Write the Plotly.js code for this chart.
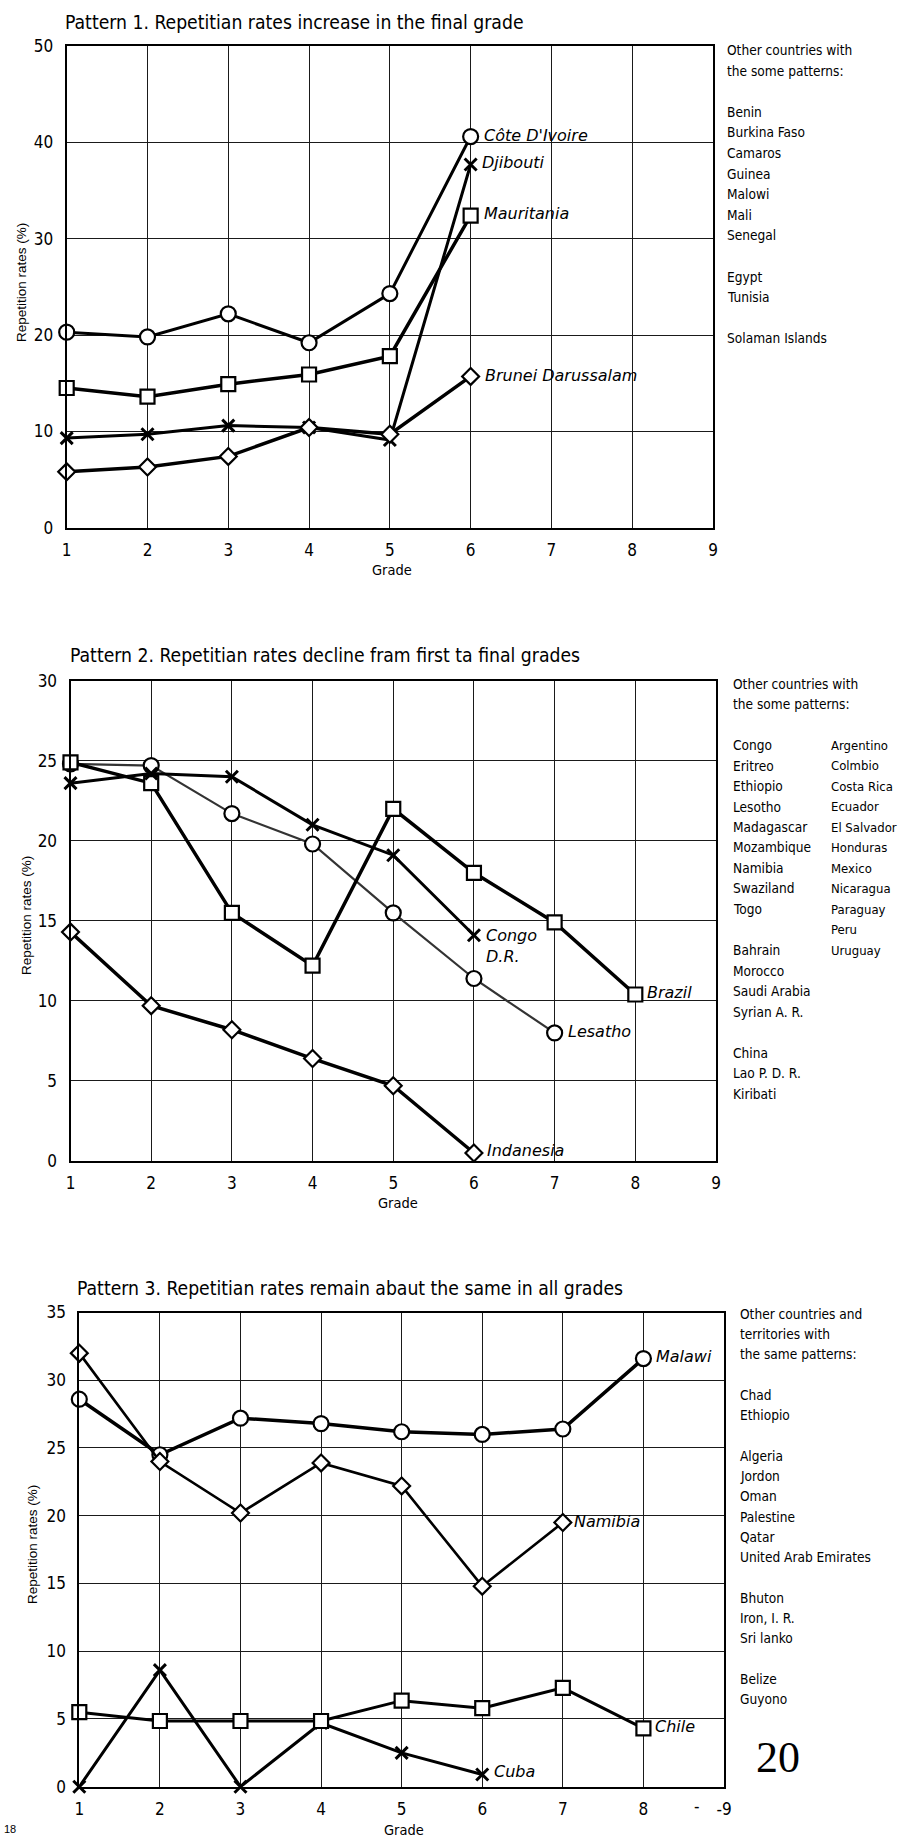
<!DOCTYPE html>
<html>
<head>
<meta charset="utf-8">
<script src="https://cdn.plot.ly/plotly-3.0.1.min.js"></script>
<style>html,body{margin:0;padding:0;background:#fff;}#chart{width:901px;height:1837px;}</style>
</head>
<body>
<div id="chart"></div>
<script>
// ---------------- DATA ----------------
// Pattern 1
const grades1 = [1, 2, 3, 4, 5, 6];
const coteDIvoire = [20.3, 19.8, 22.2, 19.2, 24.3, 40.6];
const djibouti = [9.3, 9.7, 10.6, 10.4, 9.1, 37.7];
const mauritania = [14.5, 13.6, 14.9, 15.9, 17.8, 32.4];
const brunei = [5.8, 6.3, 7.4, 10.4, 9.7, 15.7];
const others1 = ["Other countries with", "the some patterns:", "", "Benin", "Burkina Faso", "Camaros", "Guinea", "Malowi", "Mali", "Senegal", "", "Egypt", "Tunisia", "", "Solaman Islands"];

// Pattern 2
const grades2 = [1, 2, 3, 4, 5, 6, 7, 8];
const brazil = [24.9, 23.6, 15.5, 12.2, 22.0, 18.0, 14.9, 10.4];
const congoDR = [23.6, 24.2, 24.0, 21.0, 19.1, 14.1];
const lesotho = [24.8, 24.7, 21.7, 19.8, 15.5, 11.4, 8.0];
const indonesia = [14.3, 9.7, 8.2, 6.4, 4.7, 0.5];
const others2a = ["Other countries with", "the some patterns:", "", "Congo", "Eritreo", "Ethiopio", "Lesotho", "Madagascar", "Mozambique", "Namibia", "Swaziland", "Togo", "", "Bahrain", "Morocco", "Saudi Arabia", "Syrian A. R.", "", "China", "Lao P. D. R.", "Kiribati"];
const others2b = ["", "", "", "Argentino", "Colmbio", "Costa Rica", "Ecuador", "El Salvador", "Honduras", "Mexico", "Nicaragua", "Paraguay", "Peru", "Uruguay"];

// Pattern 3
const grades3 = [1, 2, 3, 4, 5, 6, 7, 8];
const malawi = [28.6, 24.5, 27.2, 26.8, 26.2, 26.0, 26.4, 31.6];
const namibia = [32.0, 24.0, 20.2, 23.9, 22.2, 14.8, 19.5];
const chile = [5.5, 4.85, 4.85, 4.85, 6.35, 5.8, 7.3, 4.3];
const cuba = [0, 8.6, 0, 4.7, 2.5, 0.9];
const others3 = ["Other countries and", "territories with", "the same patterns:", "", "Chad", "Ethiopio", "", "Algeria", "Jordon", "Oman", "Palestine", "Qatar", "United Arab Emirates", "", "Bhuton", "Iron, I. R.", "Sri lanko", "", "Belize", "Guyono"];

const titles = [
  "Pattern 1. Repetitian rates increase in the final grade",
  "Pattern 2. Repetitian rates decline fram first ta final grades",
  "Pattern 3. Repetitian rates remain abaut the same in all grades"
];
const xTicks = [1, 2, 3, 4, 5, 6, 7, 8, 9];
const xTickText3 = ["1", "2", "3", "4", "5", "6", "7", "8", "-9"];

// ---------------- STYLE ----------------
const W = 901, H = 1837;
const NARROW = "'DejaVu Sans Condensed', 'Liberation Sans Narrow', 'Arial Narrow', sans-serif";
const SANS = "'Liberation Sans', Arial, sans-serif";
const LABF = "'DejaVu Sans', 'Liberation Sans', sans-serif";
const px = x => x / W;
const py = y => 1 - y / H;

const MARK = {
  circle: {symbol: 'circle', size: 15},
  square: {symbol: 'square', size: 14},
  diamond: {symbol: 'diamond', size: 13},
  x: {symbol: 'x-thin-open', size: 12}
};

function series(xs, ys, kind, ax, lw, lc) {
  const m = MARK[kind];
  const isX = kind === 'x';
  return {
    type: 'scatter', mode: 'lines+markers',
    x: xs.slice(0, ys.length), y: ys,
    xaxis: ax[0], yaxis: ax[1],
    cliponaxis: false,
    line: {color: lc || '#000', width: lw},
    marker: {
      symbol: m.symbol, size: m.size,
      color: isX ? '#000' : '#fff',
      line: {color: '#000', width: isX ? 3 : 2.2}
    },
    hoverinfo: 'skip'
  };
}

const traces = [
  series(grades1, coteDIvoire, 'circle', ['x', 'y'], 3),
  series(grades1, mauritania, 'square', ['x', 'y'], 3.5),
  series(grades1, djibouti, 'x', ['x', 'y'], 3),
  series(grades1, brunei, 'diamond', ['x', 'y'], 3.5),

  series(grades2, lesotho, 'circle', ['x2', 'y2'], 2.2, '#333'),
  series(grades2, brazil, 'square', ['x2', 'y2'], 3.5),
  series(grades2, congoDR, 'x', ['x2', 'y2'], 3),
  series(grades2, indonesia, 'diamond', ['x2', 'y2'], 3.5),

  series(grades3, malawi, 'circle', ['x3', 'y3'], 3.5),
  series(grades3, namibia, 'diamond', ['x3', 'y3'], 2.6),
  series(grades3, cuba, 'x', ['x3', 'y3'], 3),
  series(grades3, chile, 'square', ['x3', 'y3'], 3)
];

function xAxis(dom, anchor, ticktext) {
  return {
    domain: dom, anchor: anchor, range: [1, 9], fixedrange: true,
    tickmode: 'array', tickvals: xTicks, ticktext: ticktext || xTicks.map(String),
    showgrid: true, gridcolor: '#1a1a1a', gridwidth: 1,
    showline: true, mirror: true, linecolor: '#000', linewidth: 2,
    zeroline: false, ticks: '', ticklabelstandoff: 6,
    tickfont: {family: NARROW, size: 17, color: '#000'}
  };
}
function yAxis(dom, anchor, max, dt) {
  return {
    domain: dom, anchor: anchor, range: [0, max], dtick: dt, tick0: 0, fixedrange: true,
    showgrid: true, gridcolor: '#1a1a1a', gridwidth: 1,
    showline: true, mirror: true, linecolor: '#000', linewidth: 2,
    zeroline: false, ticks: '', ticklabelstandoff: 8,
    tickfont: {family: NARROW, size: 17, color: '#000'}
  };
}

const annotations = [];
function txt(x, y, text, opts) {
  annotations.push(Object.assign({
    xref: 'paper', yref: 'paper', x: px(x), y: py(y), text: text,
    showarrow: false, xanchor: 'left', yanchor: 'middle',
    font: {family: NARROW, size: 13.6, color: '#000'}
  }, opts || {}));
}
function list(lines, x, y0, step, size) {
  lines.forEach((s, i) => {
    if (s) txt(x, y0 + i * step, s, size ? {font: {family: NARROW, size: size, color: '#000'}} : undefined);
  });
}
function label(xs, ys, text, ax, xs0, ys0, opts) {
  const i = ys.length - 1;
  annotations.push(Object.assign({
    xref: ax[0], yref: ax[1], x: xs[i], y: ys[i], text: '<i>' + text + '</i>',
    showarrow: false, xanchor: 'left', yanchor: 'middle', align: 'left',
    xshift: xs0, yshift: ys0,
    font: {family: LABF, size: 16, color: '#000'}
  }, opts || {}));
}

// Titles
const titleFont = {family: NARROW, size: 19.2, color: '#000'};
txt(63, 23, titles[0], {font: titleFont});
txt(68, 656, titles[1], {font: titleFont});
txt(75, 1288, titles[2], {font: titleFont});

// Side lists
list(others1, 725, 50, 20.6);
list(others2a, 731, 683.5, 20.5);
list(others2b, 829, 683.5, 20.5, 13);
list(others3, 738, 1313.6, 20.3);

// Axis titles
const ytFont = {family: SANS, size: 13.5, color: '#000'};
txt(21, 283, 'Repetition rates (%)', {textangle: -90, xanchor: 'center', font: ytFont});
txt(26, 916, 'Repetition rates (%)', {textangle: -90, xanchor: 'center', font: ytFont});
txt(32, 1545, 'Repetition rates (%)', {textangle: -90, xanchor: 'center', font: ytFont});
const gFont = {family: NARROW, size: 14.5, color: '#000'};
txt(392, 570, 'Grade', {xanchor: 'center', font: gFont});
txt(398, 1203, 'Grade', {xanchor: 'center', font: gFont});
txt(404, 1830, 'Grade', {xanchor: 'center', font: gFont});

// Series labels
label(grades1, coteDIvoire, 'Côte D\'Ivoire', ['x', 'y'], 11, 1);
label(grades1, djibouti, 'Djibouti', ['x', 'y'], 9, 2);
label(grades1, mauritania, 'Mauritania', ['x', 'y'], 11, 2);
label(grades1, brunei, 'Brunei Darussalam', ['x', 'y'], 12, 1);

label(grades2, congoDR, 'Congo<br>D.R.', ['x2', 'y2'], 10, 11, {yanchor: 'top'});
label(grades2, brazil, 'Brazil', ['x2', 'y2'], 10, 2);
label(grades2, lesotho, 'Lesatho', ['x2', 'y2'], 11, 1);
label(grades2, indonesia, 'Indanesia', ['x2', 'y2'], 11, 2);

label(grades3, malawi, 'Malawi', ['x3', 'y3'], 11, 2);
label(grades3, namibia, 'Namibia', ['x3', 'y3'], 9, 1);
label(grades3, chile, 'Chile', ['x3', 'y3'], 10, 2);
label(grades3, cuba, 'Cuba', ['x3', 'y3'], 10, 3);

// Page marks
txt(778, 1757, '20', {xanchor: 'center', font: {family: "'Liberation Serif', 'DejaVu Serif', serif", size: 44, color: '#000'}});
txt(697, 1806, '-', {xanchor: 'center', font: {family: NARROW, size: 17, color: '#000'}});
txt(2, 1829, '18', {font: {family: SANS, size: 11, color: '#000'}});

const layout = {
  width: W, height: H,
  margin: {l: 0, r: 0, t: 0, b: 0},
  paper_bgcolor: '#fff', plot_bgcolor: '#fff',
  showlegend: false,
  font: {family: NARROW, color: '#000'},
  xaxis: xAxis([px(66.7), px(713)], 'y'),
  yaxis: yAxis([py(527.7), py(46)], 'x', 50, 10),
  xaxis2: xAxis([px(70.5), px(716)], 'y2'),
  yaxis2: yAxis([py(1161), py(680.7)], 'x2', 30, 5),
  xaxis3: xAxis([px(79.3), px(724)], 'y3', xTickText3),
  yaxis3: yAxis([py(1786.7), py(1312.5)], 'x3', 35, 5),
  annotations: annotations
};

Plotly.newPlot('chart', traces, layout, {displayModeBar: false, staticPlot: true});
</script>
</body>
</html>
